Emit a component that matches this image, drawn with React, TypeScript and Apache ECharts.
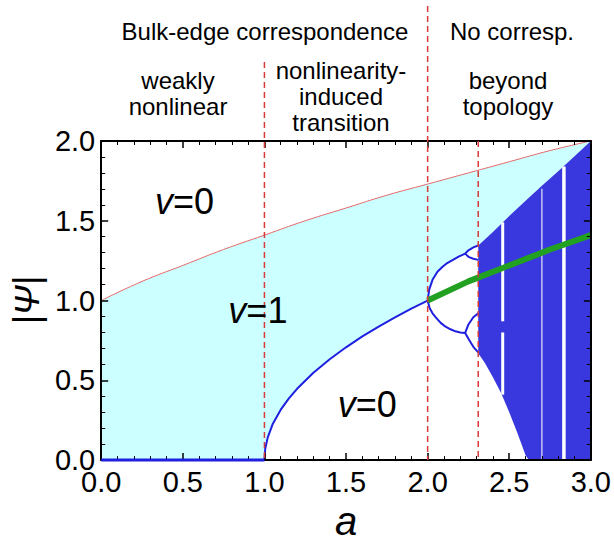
import React, { useEffect, useRef } from "react";
import * as echarts from "echarts";

// ---- data ----
const upperA = [0, 0.25, 0.5, 0.75, 1, 1.25, 1.5, 1.75, 2, 2.25, 2.5, 2.75, 3];
const upperPsi = [1.0, 1.12, 1.22, 1.32, 1.41, 1.5, 1.58, 1.66, 1.73, 1.8, 1.87, 1.94, 2.0];

const zeroA = [0, 1];
const zeroPsi = [0, 0];

const fixedA = [1.0, 1.005, 1.02, 1.05, 1.1, 1.15, 1.2, 1.3, 1.4, 1.5, 1.6, 1.7, 1.8, 1.9, 2.0];
const fixedPsi = [0, 0.071, 0.141, 0.224, 0.316, 0.387, 0.447, 0.548, 0.632, 0.707, 0.775, 0.837, 0.894, 0.949, 1.0];

const p2UpperA = [2.0, 2.01, 2.03, 2.06, 2.09, 2.12, 2.155, 2.19, 2.23];
const p2UpperPsi = [1.0, 1.07, 1.13, 1.18, 1.21, 1.235, 1.255, 1.275, 1.294];
const p2LowerA = [2.0, 2.012, 2.03, 2.05, 2.08, 2.11, 2.14, 2.17, 2.2, 2.23];
const p2LowerPsi = [1.0, 0.953, 0.92, 0.895, 0.86, 0.836, 0.82, 0.807, 0.8, 0.797];

const p4A = [2.23, 2.25, 2.28, 2.31];
const p4TopPsi = [1.294, 1.315, 1.333, 1.345];
const p4MidHighPsi = [1.294, 1.274, 1.262, 1.255];
const p4MidLowPsi = [0.797, 0.85, 0.895, 0.92];
const p4BottomPsi = [0.797, 0.76, 0.71, 0.675];

const chaosTopA = [2.31, 2.4, 2.5, 2.6, 2.7, 2.8, 2.9, 3.0];
const chaosTopPsi = [1.345, 1.43, 1.53, 1.625, 1.72, 1.81, 1.905, 2.0];
const chaosBottomA = [2.31, 2.35, 2.4, 2.45, 2.5, 2.55, 2.6, 2.62];
const chaosBottomPsi = [0.67, 0.61, 0.52, 0.42, 0.3, 0.17, 0.03, 0];

const windowA = [2.46, 2.46, 2.7, 2.835];
const windowLow = [0.41, 0.87, 0.0, 0.0];
const windowHigh = [0.8, 1.49, 1.7, 1.84];

const unstableA = [2.0, 2.25, 2.5, 2.75, 3.0];
const unstablePsi = [1.0, 1.12, 1.22, 1.32, 1.41];

const dividerA = [1, 2, 2.31];

const headerLabels = ["Bulk-edge correspondence", "No corresp."];
const regionLabels = ["weakly\nnonlinear", "nonlinearity-\ninduced\ntransition", "beyond\ntopology"];
const phaseLabels = ["0", "1", "0"];
const phaseA = [0.51, 0.96, 1.63];
const phasePsi = [1.62, 0.94, 0.35];

// ---- helpers ----
const zip = (xs: number[], ys: number[]) => xs.map((x, i) => [x, ys[i]]);
const FONT = '"Liberation Sans", Arial, Helvetica, sans-serif';
const BLUE = "#1f1fe0";

function polygonSeries(points: number[][], fill: string, z: number) {
  return {
    type: "custom",
    coordinateSystem: "cartesian2d",
    xAxisIndex: 0,
    yAxisIndex: 0,
    silent: true,
    clip: true,
    z,
    data: [[points[0][0], points[0][1]]],
    renderItem: (_p: any, api: any) => ({
      type: "polygon",
      shape: { points: points.map((p) => api.coord(p)) },
      style: { fill, stroke: null },
    }),
  };
}

function lineSeries(data: number[][], color: string, width: number, z: number, clip = true, smooth = false) {
  return {
    type: "line",
    data,
    symbol: "none",
    silent: true,
    clip,
    smooth,
    z,
    lineStyle: { color, width, cap: "butt" },
  };
}

export default function App() {
  const ref = useRef<HTMLDivElement>(null);

  useEffect(() => {
    if (!ref.current) return;
    const chart = echarts.init(ref.current, null, { renderer: "svg" });

    const cyanPoly = [
      ...zip(upperA, upperPsi),
      ...zip(chaosTopA, chaosTopPsi).reverse(),
      ...zip(p4A, p4TopPsi).reverse(),
      ...zip(p2UpperA, p2UpperPsi).reverse(),
      ...zip(fixedA, fixedPsi).reverse(),
      [0, 0],
    ];
    const chaosPoly = [
      ...zip(chaosTopA, chaosTopPsi),
      [3, 0],
      ...zip(chaosBottomA, chaosBottomPsi).reverse(),
    ];

    const windowWidths = [3, 3, 1.5, 3.5];
    const windowOpacity = [1, 1, 0.7, 1];

    const axisCommon = {
      type: "value",
      axisLine: { show: true, onZero: false, lineStyle: { color: "#000", width: 2 } },
      axisTick: { show: true, inside: true, length: 7, lineStyle: { color: "#000", width: 1.5 } },
      minorTick: { show: true, splitNumber: 5, length: 4, lineStyle: { color: "#000", width: 1 } },
      splitLine: { show: false },
      minorSplitLine: { show: false },
      z: 10,
    };

    const labelStyle = {
      fontSize: 29,
      color: "#000",
      fontFamily: FONT,
      formatter: (v: number) => v.toFixed(1),
    };

    const option: any = {
      animation: false,
      backgroundColor: "#fff",
      grid: { left: 100, right: 22, top: 141, bottom: 63, containLabel: false },
      xAxis: [
        {
          ...axisCommon,
          min: 0,
          max: 3,
          interval: 0.5,
          position: "bottom",
          axisLabel: { ...labelStyle, margin: 7 },
          name: "a",
          nameLocation: "middle",
          nameGap: 31,
          nameTextStyle: { fontSize: 40, fontStyle: "italic", fontFamily: FONT, color: "#000" },
        },
        {
          ...axisCommon,
          min: 0,
          max: 3,
          interval: 0.5,
          position: "top",
          axisLabel: { show: false },
        },
      ],
      yAxis: [
        {
          ...axisCommon,
          min: 0,
          max: 2,
          interval: 0.5,
          position: "left",
          axisLabel: { ...labelStyle, margin: 6 },
          name: "|Ψ|",
          nameLocation: "middle",
          nameRotate: 90,
          nameGap: 50,
          nameTextStyle: { fontSize: 36, fontStyle: "italic", fontFamily: FONT, color: "#000" },
        },
        {
          ...axisCommon,
          min: 0,
          max: 2,
          interval: 0.5,
          position: "right",
          axisLabel: { show: false },
        },
      ],
      series: [
        polygonSeries(cyanPoly, "#ccffff", 1),
        polygonSeries(chaosPoly, "#3838de", 2),
        {
          type: "custom",
          coordinateSystem: "cartesian2d",
          silent: true,
          clip: true,
          z: 3,
          data: windowA.map((a, i) => [a, windowLow[i], windowHigh[i]]),
          encode: { x: 0, y: [1, 2] },
          renderItem: (params: any, api: any) => {
            const p1 = api.coord([api.value(0), api.value(1)]);
            const p2 = api.coord([api.value(0), api.value(2)]);
            const i = params.dataIndex;
            return {
              type: "line",
              shape: { x1: p1[0], y1: p1[1], x2: p2[0], y2: p2[1] },
              style: { stroke: "#ffffff", lineWidth: windowWidths[i], opacity: windowOpacity[i] },
            };
          },
        },
        lineSeries(zip(upperA, upperPsi), "#e46a6a", 1, 4, true, true),
        lineSeries(zip(fixedA, fixedPsi), BLUE, 2, 5),
        lineSeries(zip(p2UpperA, p2UpperPsi), BLUE, 2, 5),
        lineSeries(zip(p2LowerA, p2LowerPsi), BLUE, 2, 5),
        lineSeries(zip(p4A, p4TopPsi), BLUE, 2, 5),
        lineSeries(zip(p4A, p4MidHighPsi), BLUE, 2, 5),
        lineSeries(zip(p4A, p4MidLowPsi), BLUE, 2, 5),
        lineSeries(zip(p4A, p4BottomPsi), BLUE, 2, 5),
        lineSeries(zip(unstableA, unstablePsi), "#22a022", 6, 6),
        lineSeries(zip(zeroA, zeroPsi), BLUE, 3, 20, false),
      ],
    };

    chart.setOption(option);

    const px = (a: number, v: number) =>
      chart.convertToPixel({ xAxisIndex: 0, yAxisIndex: 0 }, [a, v]) as number[];

    const bottom = px(0, 0)[1];
    const top = px(0, 2)[1];
    const dividerTop = [62, 6, top];
    const dashStyle = { stroke: "#d83a3a", lineWidth: 1.5, lineDash: [6, 4] };

    const graphic: any[] = [];
    dividerA.forEach((a, i) => {
      const x = px(a, 0)[0];
      graphic.push({
        type: "line",
        z: 30,
        silent: true,
        shape: { x1: x, y1: dividerTop[i], x2: x, y2: bottom },
        style: dashStyle,
      });
    });

    const textBase = {
      fill: "#000",
      fontSize: 24,
      fontFamily: FONT,
      align: "center",
      verticalAlign: "middle",
      lineHeight: 26,
    };
    const headerPos = [
      [265, 31],
      [512, 31],
    ];
    headerLabels.forEach((t, i) => {
      graphic.push({
        type: "text",
        z: 30,
        style: { ...textBase, text: t, x: headerPos[i][0], y: headerPos[i][1] },
      });
    });
    const regionPos = [
      [178, 93],
      [341, 96],
      [508, 93],
    ];
    regionLabels.forEach((t, i) => {
      graphic.push({
        type: "text",
        z: 30,
        style: { ...textBase, text: t, x: regionPos[i][0], y: regionPos[i][1] },
      });
    });
    phaseLabels.forEach((t, i) => {
      const p = px(phaseA[i], phasePsi[i]);
      graphic.push({
        type: "text",
        z: 30,
        style: {
          text: "{i|v}=" + t,
          x: p[0],
          y: p[1],
          align: "center",
          verticalAlign: "middle",
          fill: "#000",
          fontSize: 36,
          fontFamily: FONT,
          rich: {
            i: { fontStyle: "italic", fontSize: 36, fontFamily: FONT, fill: "#000" },
          },
        },
      });
    });

    chart.setOption({ graphic });

    return () => chart.dispose();
  }, []);

  return (
    <div
      ref={ref}
      style={{ position: "absolute", left: 0, top: 0, width: 614, height: 546 }}
    />
  );
}
